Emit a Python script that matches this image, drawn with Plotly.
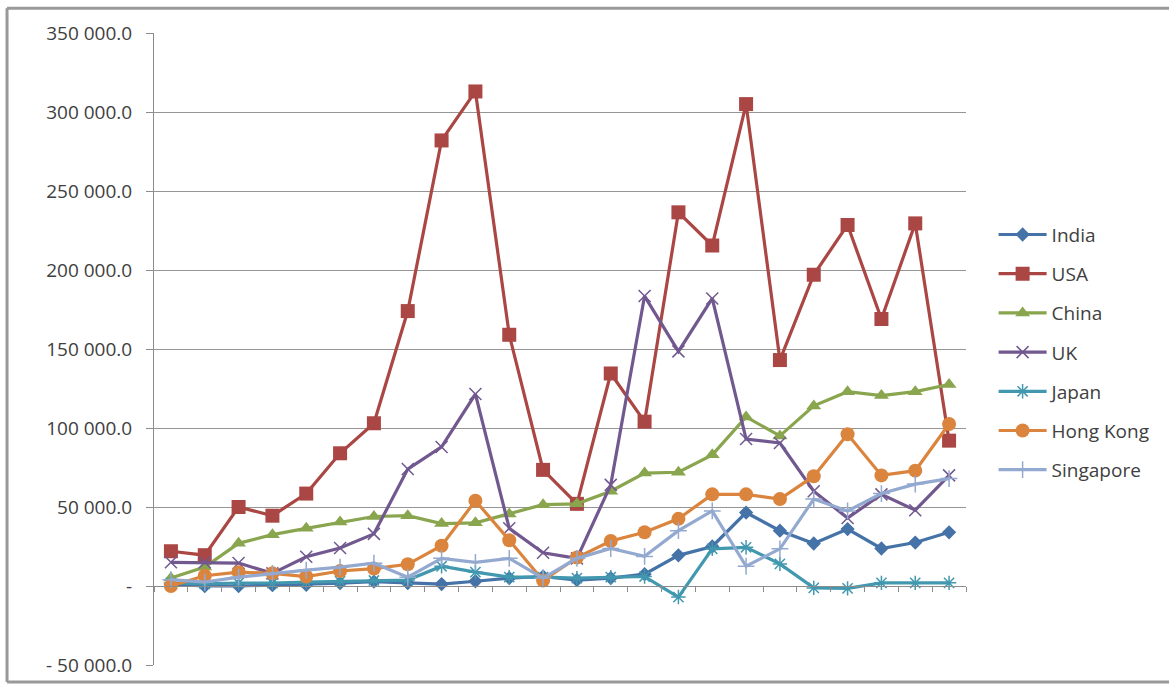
import plotly.graph_objects as go

categories = [str(i) for i in range(1, 25)]

india = [1000, 0, 0, 500, 800, 1800, 2800, 1900, 1200, 3000, 5000, 6000, 3750, 5000,
         7500, 19400, 25000, 46500, 35000, 26900, 36000, 23750, 27500, 34000]
usa = [22000, 19500, 50000, 44500, 58500, 84000, 103000, 174000, 282000, 313000, 159000, 73500,
       52000, 134500, 104000, 236500, 215500, 305000, 143000, 197000, 228500, 169000, 229500, 92000]
china = [5000, 12000, 27000, 32500, 36500, 40500, 44000, 44500, 39500, 40000, 45500, 51500,
         52000, 60000, 71500, 72000, 83000, 107000, 95000, 114000, 123000, 120500, 123000, 127500]
uk = [15000, 15000, 14500, 8000, 18500, 24000, 33000, 74000, 88000, 121500, 36500, 21000,
      17500, 64000, 183500, 148500, 182000, 93000, 90500, 60000, 43000, 58000, 48000, 70000]
japan = [1900, 1300, 1900, 1900, 2500, 3000, 3500, 3750, 12500, 8750, 5600, 5600,
         5000, 5600, 6000, -7000, 23500, 24500, 14000, -1200, -1500, 2000, 2000, 2000]
hong_kong = [0, 6500, 8750, 8000, 6000, 9500, 11000, 13750, 25500, 54000, 29000, 3500,
             18000, 28500, 34000, 42500, 58000, 58000, 55000, 69500, 96000, 70000, 73000, 102500]
singapore = [4000, 2500, 5600, 8000, 10000, 12000, 14400, 5600, 17500, 15000, 17500, 5000,
             17500, 23750, 18750, 35000, 47500, 12500, 23500, 55000, 47500, 58500, 64500, 68000]

y_tickvals = [-50000, 0, 50000, 100000, 150000, 200000, 250000, 300000, 350000]
y_ticktext = ["- 50 000.0", "-", "50 000.0", "100 000.0", "150 000.0", "200 000.0",
              "250 000.0", "300 000.0", "350 000.0"]

series = [
    ("India", india, "#4572A7", "diamond", 11, 0),
    ("USA", usa, "#AA4643", "square", 14, 0),
    ("China", china, "#89A54E", "triangle-up", 13, 0),
    ("UK", uk, "#71588F", "x-thin-open", 12, 1.5),
    ("Japan", japan, "#4198AF", "asterisk-open", 12, 1.5),
    ("Hong Kong", hong_kong, "#DB843D", "circle", 14, 0),
    ("Singapore", singapore, "#93A9CF", "cross-thin-open", 12, 1.5),
]

fig = go.Figure()
for name, vals, color, sym, size, lw in series:
    fig.add_trace(go.Scatter(
        x=categories, y=vals, name=name, mode="lines+markers",
        legendgroup=name,
        line=dict(color=color, width=3.2),
        marker=dict(symbol=sym, size=size, color=color,
                    line=dict(color=color, width=lw)),
    ))

frame = dict(xref="paper", yref="paper", type="line",
             line=dict(color="#999999", width=3))
fig.update_layout(
    width=1169, height=690,
    margin=dict(l=154, r=203, t=33, b=19),
    paper_bgcolor="white", plot_bgcolor="white",
    font=dict(family="Open Sans", size=19, color="#404040"),
    showlegend=True,
    legend=dict(x=1.034, y=0.711, xanchor="left", yanchor="top",
                font=dict(family="Open Sans", size=19, color="#404040"),
                itemwidth=48, tracegroupgap=11.5, bgcolor="rgba(0,0,0,0)"),
    xaxis=dict(type="category", range=[-0.5, 23.5], anchor="free", position=0.125,
               showgrid=False, showline=True, linecolor="#8c8c8c", linewidth=1,
               ticks="outside", tickson="boundaries", ticklen=5, tickcolor="#8c8c8c",
               showticklabels=False, zeroline=False),
    yaxis=dict(range=[-50000, 350000], tickvals=y_tickvals, ticktext=y_ticktext,
               showgrid=True, gridcolor="#959595", gridwidth=1.3,
               showline=True, linecolor="#8c8c8c", linewidth=1,
               ticks="outside", ticklen=7, tickcolor="#8c8c8c",
               ticklabelstandoff=10, zeroline=False,
               tickfont=dict(family="Open Sans", size=19, color="#404040")),
    shapes=[
        dict(frame, x0=-0.181, x1=1.26, y0=1.039, y1=1.039),
        dict(frame, x0=-0.181, x1=-0.181, y0=-0.027, y1=1.039),
        dict(frame, x0=-0.181, x1=1.26, y0=-0.027, y1=-0.027),
    ],
)

fig.write_html("out.html")
